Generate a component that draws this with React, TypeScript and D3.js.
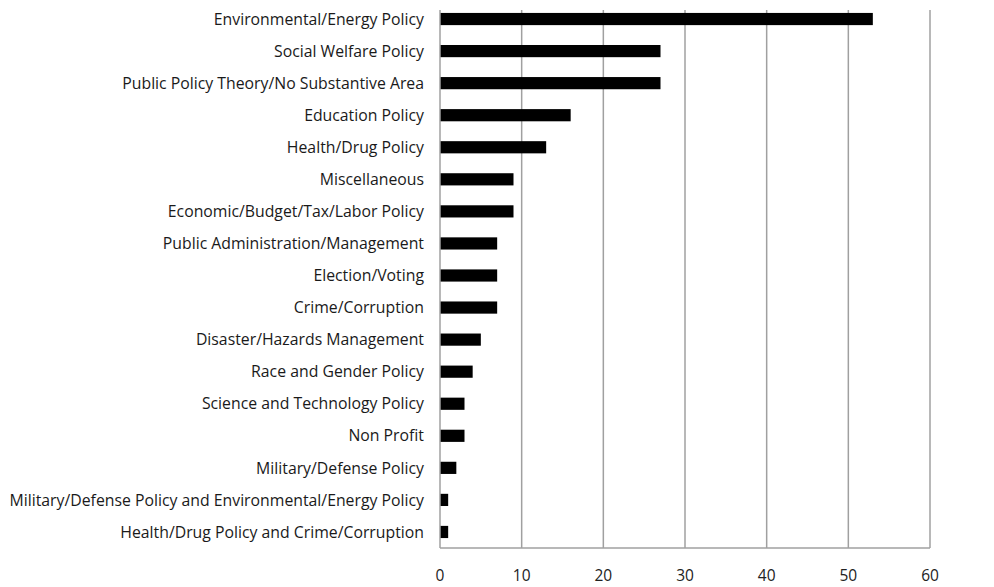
import React from 'react';
import * as d3 from 'd3';

const categories = [
  'Environmental/Energy Policy',
  'Social Welfare Policy',
  'Public Policy Theory/No Substantive Area',
  'Education Policy',
  'Health/Drug Policy',
  'Miscellaneous',
  'Economic/Budget/Tax/Labor Policy',
  'Public Administration/Management',
  'Election/Voting',
  'Crime/Corruption',
  'Disaster/Hazards Management',
  'Race and Gender Policy',
  'Science and Technology Policy',
  'Non Profit ',
  'Military/Defense Policy',
  'Military/Defense Policy and Environmental/Energy Policy',
  'Health/Drug Policy and Crime/Corruption',
];
const counts = [53, 27, 27, 16, 13, 9, 9, 7, 7, 7, 5, 4, 3, 3, 2, 1, 1];
const xTicks = [0, 10, 20, 30, 40, 50, 60];

const W = 994;
const H = 587;
const left = 440;
const right = 930;
const top = 3;
const bottom = 548;
const gridTop = 10;

export default function App() {
  const x = d3.scaleLinear().domain([0, 60]).range([left, right]);
  const y = d3.scaleBand<string>().domain(categories).range([top, bottom]).paddingInner(0.62).paddingOuter(0.31);
  const font = '"Open Sans", Lato, sans-serif';

  return (
    <svg width={W} height={H} style={{ position: 'absolute', left: 0, top: 0, background: '#fff' }}>
      {xTicks.slice(1).map(t => (
        <line key={t} x1={x(t)} x2={x(t)} y1={gridTop} y2={bottom} stroke="#a0a0a0" strokeWidth={1.5} />
      ))}
      {categories.map((c, i) => (
        <rect key={c} x={x(0)} y={y(c)!} width={x(counts[i]) - x(0)} height={y.bandwidth()} fill="#000" />
      ))}
      <line x1={left} x2={left} y1={gridTop} y2={bottom} stroke="#a0a0a0" strokeWidth={1.5} />
      <line x1={left} x2={right} y1={bottom} y2={bottom} stroke="#a0a0a0" strokeWidth={1.5} />
      {categories.map(c => (
        <text key={c} x={424} y={y(c)! + y.bandwidth() / 2} dy="0.36em" textAnchor="end"
          fontFamily={font} fontSize={15.8} fill="#1a1a1a">{c}</text>
      ))}
      {xTicks.map(t => (
        <text key={t} x={x(t)} y={575} dy="0.36em" textAnchor="middle" fontFamily={font} fontSize={15.5} fill="#222">{t}</text>
      ))}
    </svg>
  );
}
